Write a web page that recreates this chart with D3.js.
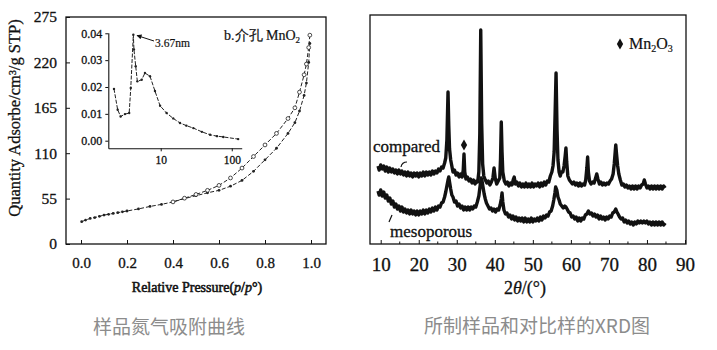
<!DOCTYPE html>
<html><head><meta charset="utf-8">
<script src="https://cdn.jsdelivr.net/npm/d3@7"></script>
<style>
body{margin:0;background:#fff;}
svg text{font-family:"Liberation Serif","Times New Roman",serif;fill:#111;}
svg text.cap{font-family:"Noto Sans CJK SC","Noto Sans",sans-serif;fill:#8c8c8c;}
</style></head><body>
<svg id="c" width="717" height="350"></svg>
<script>
// ---------- data ----------
const isoTicksX = [0.0, 0.2, 0.4, 0.6, 0.8, 1.0];
const isoTicksY = [0, 55, 110, 165, 220, 275];
const adsP = [0.003,0.02,0.04,0.06,0.08,0.10,0.12,0.14,0.16,0.18,0.20,0.25,0.30,0.35,0.40,0.45,0.50,0.55,0.60,0.65,0.70,0.75,0.80,0.85,0.90,0.93,0.95,0.97,0.98,0.99,0.995];
const adsQ = [27,29,31,32,33.5,35,36,37,38,39,40,42.5,45.5,48,51,55,58.5,62,65,70,77,88,102,116,134,147,161,180,195,220,243];
const desP = [0.995,0.99,0.98,0.97,0.95,0.93,0.90,0.85,0.80,0.75,0.70,0.65,0.60,0.55,0.50,0.45,0.40];
const desQ = [253,238,218,205,184,165,152,134,120,106,92,80,71,65,60,55.5,51];

const psdTicksX = [10, 100];
const psdTicksY = [0.00, 0.01, 0.02, 0.03, 0.04];
const psdD = [2.2,2.48,2.73,3.14,3.6,3.79,4.12,4.2,4.45,4.69,5.4,6.0,7.07,8.3,9.8,12.1,15,18.7,23,28.8,38,49.5,62,76,123];
const psdV = [0.0193,0.0115,0.009,0.0099,0.0103,0.0196,0.0395,0.034,0.0277,0.0221,0.0227,0.0252,0.024,0.0185,0.013,0.0103,0.0083,0.0066,0.0056,0.0047,0.0033,0.0022,0.0017,0.0014,0.0006];

const xrdTicks = [10,20,30,40,50,60,70,80,90];
// [2theta, intensity (a.u.)]
const compared = [
[9.3,78],[9.6,74],[10,79],[10.4,75],[10.8,78],[11.2,73],[11.6,77],[12,72],[12.4,76],[12.8,72],[13.2,75],[13.6,71],[14,74],[14.4,70],[14.8,74],[15.2,70],[15.6,73],[16,69],[16.4,72],[16.8,68],[17.2,72],[17.6,68],[18,71],[18.4,67],[18.8,71],[19.2,68],[19.6,71],[20,67],[20.4,71],[20.8,68],[21.2,72],[21.6,68],[22,72],[22.4,69],[22.8,72],[23.2,69],[23.6,73],[24,70],[24.4,73],[24.8,71],[25.2,75],[25.6,73],[26,77],[26.4,76],[26.8,81],[27.1,86],[27.4,104],[27.7,152],[27.9,118],[28.1,95],[28.4,84],[28.7,78],[29,72],[29.4,74],[29.8,69],[30.2,71],[30.6,67],[31,70],[31.4,67],[31.7,74],[31.9,90],[32.1,72],[32.4,65],[32.8,67],[33.2,63],[33.6,65],[34,61],[34.4,64],[34.8,60],[35.2,63],[35.5,62],[35.8,72],[36.05,110],[36.3,214],[36.55,120],[36.8,80],[37.1,68],[37.5,64],[37.9,61],[38.3,63],[38.7,59],[39.1,62],[39.5,66],[39.8,76],[40.1,66],[40.5,60],[40.9,63],[41.3,66],[41.5,85],[41.7,122],[41.9,92],[42.1,72],[42.5,63],[42.9,60],[43.3,62],[43.7,58],[44.1,61],[44.5,59],[44.9,65],[45.1,67],[45.4,60],[45.8,62],[46.2,58],[46.6,61],[47,57],[47.4,60],[47.8,57],[48.2,61],[48.6,57],[49,60],[49.4,57],[49.8,61],[50.2,57],[50.6,60],[51,58],[51.4,61],[51.8,57],[52.2,61],[52.6,58],[53,62],[53.4,59],[53.8,63],[54.2,62],[54.6,68],[55,72],[55.3,78],[55.6,92],[55.85,130],[56.1,171],[56.35,115],[56.6,84],[56.9,72],[57.2,68],[57.5,72],[57.9,72],[58.2,78],[58.5,88],[58.7,96],[58.9,82],[59.2,68],[59.6,64],[60,62],[60.4,60],[60.8,62],[61.2,59],[61.6,61],[62,58],[62.4,61],[62.8,58],[63.2,60],[63.6,59],[63.9,64],[64.2,76],[64.4,87],[64.6,72],[64.9,63],[65.3,60],[65.7,62],[66.1,61],[66.5,66],[66.8,70],[67.1,65],[67.5,60],[67.9,62],[68.3,59],[68.7,61],[69.1,59],[69.5,61],[69.9,60],[70.3,63],[70.7,65],[71.1,70],[71.4,80],[71.65,92],[71.8,99],[72,90],[72.3,78],[72.6,70],[73,64],[73.4,59],[73.8,60],[74.2,57],[74.6,59],[75,56],[75.4,58],[75.8,55],[76.2,58],[76.6,55],[77,58],[77.4,55],[77.8,58],[78.2,56],[78.6,59],[79,60],[79.3,64],[79.6,60],[80,56],[80.4,58],[80.8,55],[81.2,58],[81.6,55],[82,58],[82.4,55],[82.8,58],[83.2,55],[83.6,58],[84,55],[84.4,58],[84.8,56]
];
const mesoporous = [
[9.3,53],[9.6,49],[10,54],[10.4,48],[10.8,52],[11.2,46],[11.6,49],[12,43],[12.4,46],[12.8,40],[13.2,43],[13.6,37],[14,40],[14.4,35],[14.8,38],[15.2,33],[15.6,37],[16,32],[16.4,35],[16.8,31],[17.2,34],[17.6,30],[18,34],[18.4,30],[18.8,33],[19.2,29],[19.6,33],[20,29],[20.4,33],[20.8,30],[21.2,34],[21.6,30],[22,34],[22.4,31],[22.8,35],[23.2,32],[23.6,36],[24,33],[24.4,37],[24.8,34],[25.2,38],[25.6,37],[26,41],[26.4,42],[26.8,47],[27.1,52],[27.4,58],[27.7,64],[27.9,67],[28.1,62],[28.4,55],[28.7,49],[29,47],[29.4,42],[29.8,43],[30.2,38],[30.6,40],[31,36],[31.4,38],[31.8,34],[32.2,37],[32.6,34],[33,37],[33.4,34],[33.8,37],[34.2,35],[34.6,38],[35,37],[35.4,42],[35.8,48],[36.1,57],[36.4,66],[36.6,64],[36.9,57],[37.2,50],[37.5,45],[37.8,41],[38.2,38],[38.6,35],[39,36],[39.4,33],[39.8,35],[40.2,32],[40.6,35],[41,34],[41.4,39],[41.7,45],[41.9,51],[42.1,42],[42.4,34],[42.8,30],[43.2,31],[43.6,27],[44,29],[44.4,25],[44.8,28],[45.2,24],[45.6,27],[46,23],[46.4,26],[46.8,23],[47.2,26],[47.6,22],[48,26],[48.4,22],[48.8,25],[49.2,22],[49.6,26],[50,22],[50.4,25],[50.8,23],[51.2,26],[51.6,23],[52,27],[52.4,24],[52.8,28],[53.2,26],[53.6,29],[54,28],[54.4,32],[54.8,33],[55.2,38],[55.5,44],[55.8,51],[56,57],[56.3,54],[56.6,47],[56.9,44],[57.2,40],[57.6,38],[58,36],[58.4,38],[58.7,37],[59,35],[59.4,32],[59.8,31],[60.2,27],[60.6,28],[61,25],[61.4,27],[61.8,23],[62.2,26],[62.6,23],[63,26],[63.4,25],[63.8,29],[64.2,30],[64.6,33],[65,30],[65.4,31],[65.8,28],[66.2,30],[66.6,27],[67,29],[67.4,25],[67.8,28],[68.2,25],[68.6,27],[69,24],[69.4,27],[69.8,25],[70.2,28],[70.6,27],[71,31],[71.4,32],[71.8,35],[72.1,32],[72.4,30],[72.8,27],[73.2,25],[73.6,26],[74,22],[74.4,24],[74.8,21],[75.2,23],[75.6,20],[76,22],[76.4,19],[76.8,22],[77.2,20],[77.6,23],[78,21],[78.4,23],[78.8,21],[79.2,23],[79.6,21],[80,23],[80.4,20],[80.8,22],[81.2,19],[81.6,22],[82,19],[82.4,22],[82.8,19],[83.2,22],[83.6,19],[84,22],[84.4,19],[84.8,21]
];
const mn2o3Peak = [31.9, 90];

// ---------- drawing ----------
const SERIF = '"Liberation Serif","Times New Roman",serif';
const svg = d3.select("#c");
svg.append("defs").append("marker").attr("id","arr").attr("viewBox","0 0 10 10")
  .attr("refX",9).attr("refY",5).attr("markerWidth",6).attr("markerHeight",5).attr("orient","auto")
  .append("path").attr("d","M0,0 L10,5 L0,10 z").attr("fill","#111");

function styleAxis(g, size){
  g.attr("font-family", null).attr("font-size", null);
  g.selectAll("text").style("font-size", size+"px").style("font-family", SERIF)
   .attr("fill","#111").attr("stroke","#111").attr("stroke-width",0.3);
  g.selectAll("line").attr("stroke","#111").attr("stroke-width",1);
}

// ===== Left: N2 isotherm =====
const L = {l:66, r:326, t:17, b:244};
const xI = d3.scaleLinear().domain([0,1]).range([81,311]);
const yI = d3.scaleLinear().domain([0,275]).range([244,17]);

svg.append("rect").attr("x",L.l).attr("y",L.t).attr("width",L.r-L.l).attr("height",L.b-L.t)
  .attr("fill","none").attr("stroke","#111").attr("stroke-width",1.3);

const gxI = svg.append("g").attr("transform",`translate(0,${L.b})`)
  .call(d3.axisBottom(xI).tickValues(isoTicksX).tickSize(-4).tickPadding(13).tickFormat(d3.format(".1f")));
gxI.select(".domain").remove(); styleAxis(gxI, 15);
const gyI = svg.append("g").attr("transform",`translate(${L.l},0)`)
  .call(d3.axisLeft(yI).tickValues(isoTicksY).tickSize(-4).tickPadding(9));
gyI.select(".domain").remove(); styleAxis(gyI, 15.5);

svg.append("text").attr("transform","translate(20,118) rotate(-90)").attr("text-anchor","middle")
  .style("font-size","16.5px").attr("stroke","#111").attr("stroke-width",0.3)
  .text("Quantity Adsorbe/cm³/g STP)");
const xl = svg.append("text").attr("x",197).attr("y",292).attr("text-anchor","middle")
  .style("font-size","14px").attr("stroke","#111").attr("stroke-width",0.55);
xl.append("tspan").text("Relative Pressure(");
xl.append("tspan").attr("font-style","italic").text("p");
xl.append("tspan").text("/");
xl.append("tspan").attr("font-style","italic").text("p");
xl.append("tspan").text("°)");

const ads = adsP.map((p,i)=>[p,adsQ[i]]);
const des = desP.map((p,i)=>[p,desQ[i]]);
const lineI = d3.line().x(d=>xI(d[0])).y(d=>yI(d[1]));
svg.append("path").attr("d",lineI(ads)).attr("fill","none").attr("stroke","#222").attr("stroke-width",1).attr("stroke-dasharray","4,2");
svg.append("path").attr("d",lineI(des)).attr("fill","none").attr("stroke","#222").attr("stroke-width",1).attr("stroke-dasharray","4,2");
svg.append("g").selectAll("circle").data(ads).join("circle")
  .attr("cx",d=>xI(d[0])).attr("cy",d=>yI(d[1])).attr("r",1.4).attr("fill","#222");
svg.append("g").selectAll("circle").data(des).join("circle")
  .attr("cx",d=>xI(d[0])).attr("cy",d=>yI(d[1])).attr("r",1.9).attr("fill","#fff").attr("stroke","#222").attr("stroke-width",0.8);

const lab = svg.append("text").attr("x",224).attr("y",40).style("font-size","14px").attr("stroke","#111").attr("stroke-width",0.2);
lab.append("tspan").text("b.介孔 MnO");
lab.append("tspan").style("font-size","9px").attr("dy",3).text("2");

// ---- inset: pore size distribution ----
const xP = d3.scaleLog().domain([1.83,138]).range([108.3,241.7]);
const yP = d3.scaleLinear().domain([-0.00283,0.04022]).range([148.3,32.7]);
const gxP = svg.append("g").attr("transform","translate(0,148.3)")
  .call(d3.axisBottom(xP).tickValues(psdTicksX).tickSize(3).tickSizeOuter(0).tickPadding(5).tickFormat(d3.format("d")));
gxP.select(".domain").attr("stroke","#111").attr("stroke-width",1.1);
styleAxis(gxP, 11.5);
const gyP = svg.append("g").attr("transform","translate(108.3,0)")
  .call(d3.axisLeft(yP).tickValues(psdTicksY).tickSize(3).tickSizeOuter(0).tickPadding(3).tickFormat(d3.format(".2f")));
gyP.select(".domain").attr("stroke","#111").attr("stroke-width",1.1);
styleAxis(gyP, 12);

const psd = psdD.map((d,i)=>[d,psdV[i]]);
svg.append("path").attr("d",d3.line().x(d=>xP(d[0])).y(d=>yP(d[1]))(psd))
  .attr("fill","none").attr("stroke","#222").attr("stroke-width",1).attr("stroke-dasharray","4,1.5");
svg.append("g").selectAll("circle").data(psd).join("circle")
  .attr("cx",d=>xP(d[0])).attr("cy",d=>yP(d[1])).attr("r",1.2).attr("fill","#222");
svg.append("line").attr("x1",154).attr("y1",41).attr("x2",137).attr("y2",35.5)
  .attr("stroke","#111").attr("stroke-width",1).attr("marker-end","url(#arr)");
svg.append("text").attr("x",155).attr("y",47).style("font-size","11.5px").attr("stroke","#111").attr("stroke-width",0.2).text("3.67nm");

svg.append("text").attr("class","cap").attr("x",169).attr("y",334).attr("text-anchor","middle")
  .style("font-size","19px").text("样品氮气吸附曲线");

// ===== Right: XRD =====
const R = {l:370, r:686, t:15, b:244};
const xX = d3.scaleLinear().domain([10,90]).range([380.7,685]);
const yX = d3.scaleLinear().domain([0,229]).range([244,15]);

svg.append("rect").attr("x",R.l).attr("y",R.t).attr("width",R.r-R.l).attr("height",R.b-R.t)
  .attr("fill","none").attr("stroke","#111").attr("stroke-width",1.3);
const gxX = svg.append("g").attr("transform",`translate(0,${R.b})`)
  .call(d3.axisBottom(xX).tickValues(xrdTicks).tickSize(-4).tickPadding(14));
gxX.select(".domain").remove(); styleAxis(gxX, 19);
const minor = xrdTicks.slice(0,-1).map(v=>v+5);
svg.append("g").selectAll("line").data(minor).join("line")
  .attr("x1",d=>xX(d)).attr("x2",d=>xX(d)).attr("y1",R.b).attr("y2",R.b-2.5).attr("stroke","#111");

const xt = svg.append("text").attr("x",525).attr("y",294).attr("text-anchor","middle").style("font-size","18px")
  .attr("stroke","#111").attr("stroke-width",0.3);
xt.append("tspan").text("2");
xt.append("tspan").attr("font-style","italic").text("θ");
xt.append("tspan").text("/(°)");

const lineX = d3.line().x(d=>xX(d[0])).y(d=>yX(d[1]));
[compared, mesoporous].forEach(s=>{
  svg.append("path").attr("d",lineX(s)).attr("fill","none").attr("stroke","#111")
    .attr("stroke-width",3.4).attr("stroke-linejoin","round");
});

svg.append("text").attr("x",373).attr("y",152).style("font-size","17px").attr("stroke","#111").attr("stroke-width",0.3).text("compared");
svg.append("text").attr("x",390).attr("y",237).style("font-size","17px").attr("stroke","#111").attr("stroke-width",0.3).text("mesoporous");
svg.append("path").attr("d","M401,167 Q402,162 407,162").attr("fill","none").attr("stroke","#111").attr("stroke-width",1.2);
svg.append("line").attr("x1",389).attr("y1",222).attr("x2",392).attr("y2",215).attr("stroke","#111").attr("stroke-width",1.2);

const diamond = d3.symbol().type(d3.symbolDiamond).size(34);
svg.append("path").attr("d",diamond()).attr("fill","#111")
  .attr("transform",`translate(${xX(mn2o3Peak[0])},${yX(mn2o3Peak[1])-9})`);
svg.append("path").attr("d",diamond()).attr("fill","#111").attr("transform","translate(620,44)");
const mt = svg.append("text").attr("x",629).attr("y",49).style("font-size","16px").attr("stroke","#111").attr("stroke-width",0.2);
mt.append("tspan").text("Mn");
mt.append("tspan").style("font-size","10px").attr("dy",3).text("2");
mt.append("tspan").attr("dy",-3).text("O");
mt.append("tspan").style("font-size","10px").attr("dy",3).text("3");

svg.append("text").attr("class","cap").attr("x",537).attr("y",333).attr("text-anchor","middle")
  .style("font-size","19px").text("所制样品和对比样的XRD图");
</script>
</body></html>
